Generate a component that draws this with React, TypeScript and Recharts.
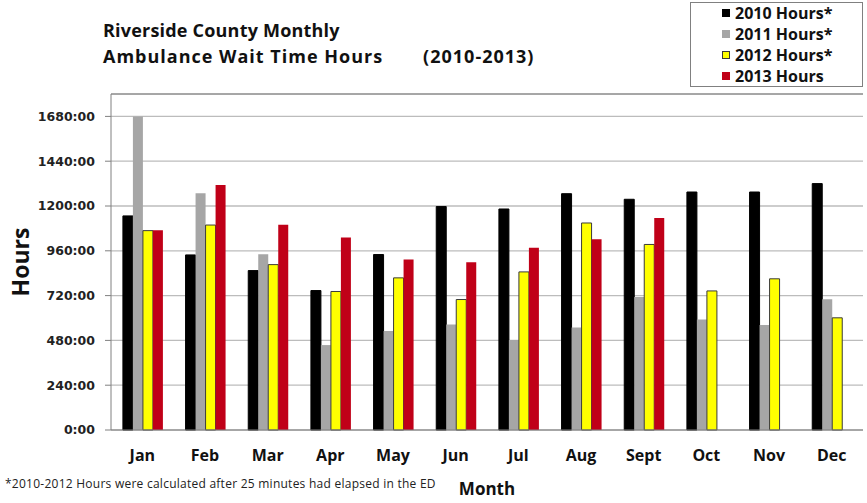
import React from "react";
import {
  BarChart,
  Bar,
  XAxis,
  YAxis,
  CartesianGrid,
  ReferenceLine,
} from "recharts";

const months = ["Jan", "Feb", "Mar", "Apr", "May", "Jun", "Jul", "Aug", "Sept", "Oct", "Nov", "Dec"];
const hours2010 = [1147, 938, 854, 747, 940, 1197, 1184, 1266, 1236, 1275, 1275, 1320];
const hours2011 = [1680, 1268, 942, 455, 530, 565, 482, 549, 713, 592, 562, 701];
const hours2012 = [1068, 1098, 886, 742, 815, 699, 847, 1109, 994, 745, 810, 601];
const hours2013 = [1070, 1312, 1100, 1031, 913, 899, 977, 1022, 1136, null, null, null];
const yTicks = [0, 240, 480, 720, 960, 1200, 1440, 1680];

const series = [
  { key: "y2010", name: "2010 Hours*", fill: "#000000", stroke: "#000000" },
  { key: "y2011", name: "2011 Hours*", fill: "#a6a6a6", stroke: "none" },
  { key: "y2012", name: "2012 Hours*", fill: "#ffff00", stroke: "#3a3a3a" },
  { key: "y2013", name: "2013 Hours", fill: "#c00018", stroke: "none" },
];

const data = months.map((month, i) => ({
  month,
  y2010: hours2010[i],
  y2011: hours2011[i],
  y2012: hours2012[i],
  y2013: hours2013[i],
}));

// category boundaries, used for the tick marks between months
const boundaryTicks = months.map((_, i) => i).concat(months.length);

const calibriLike = "'Open Sans', 'Liberation Sans', sans-serif";

function HoursLabel(props: any) {
  const vb = props.viewBox || {};
  const cx = vb.x + 20;
  const cy = vb.y + vb.height / 2;
  return (
    <text
      x={cx}
      y={cy}
      transform={`rotate(-90 ${cx} ${cy})`}
      textAnchor="middle"
      dominantBaseline="central"
      fontSize={23}
      fontWeight={700}
      fill="#111"
      fontFamily={calibriLike}
    >
      Hours
    </text>
  );
}

export default function App() {
  return (
    <div
      style={{
        position: "absolute",
        left: 0,
        top: 0,
        width: 867,
        height: 503,
        background: "#fff",
        fontFamily: calibriLike,
      }}
    >
      <div
        style={{
          position: "absolute",
          left: 103,
          top: 17,
          fontSize: 18,
          lineHeight: "26px",
          fontWeight: 700,
          color: "#111",
          whiteSpace: "nowrap",
        }}
      >
        <div style={{ letterSpacing: 0.2 }}>Riverside County Monthly</div>
        <div style={{ letterSpacing: 1 }}>
          Ambulance Wait Time Hours
          <span style={{ marginLeft: 40, letterSpacing: 1 }}>(2010-2013)</span>
        </div>
      </div>

      <div
        style={{
          position: "absolute",
          left: 690,
          top: 2,
          width: 173,
          height: 85,
          border: "1px solid #808080",
          boxSizing: "border-box",
          paddingLeft: 31,
        }}
      >
        {series.map((s) => (
          <div
            key={s.key}
            style={{
              display: "flex",
              alignItems: "center",
              height: 20.8,
              fontSize: 16,
              fontWeight: 700,
              color: "#111",
              whiteSpace: "nowrap",
            }}
          >
            <span
              style={{
                display: "inline-block",
                width: 8,
                height: 8,
                background: s.fill,
                border: s.stroke === "none" ? "none" : `1px solid ${s.stroke}`,
                boxSizing: "border-box",
                marginRight: 5,
              }}
            />
            {s.name}
          </div>
        ))}
      </div>

      <div style={{ position: "absolute", left: 0, top: 0 }}>
        <BarChart
          width={867}
          height={503}
          data={data}
          margin={{ top: 94, right: 4, bottom: 0, left: 0 }}
          barCategoryGap="19%"
          barGap={0}
        >
          <CartesianGrid vertical={false} stroke="#bcbcbc" strokeWidth={1.3} />
          <XAxis
            xAxisId="sep"
            type="number"
            domain={[0, months.length]}
            ticks={boundaryTicks}
            tick={false}
            tickSize={6}
            axisLine={false}
            tickLine={{ stroke: "#808080" }}
            height={0}
          />
          <XAxis
            dataKey="month"
            height={73}
            tickLine={false}
            axisLine={{ stroke: "#808080" }}
            tickSize={0}
            tickMargin={20}
            tick={{ fontSize: 16, fontWeight: 700, fill: "#111", fontFamily: calibriLike }}
            interval={0}
            label={{
              value: "Month",
              position: "insideBottom",
              offset: 8,
              fontSize: 17,
              fontWeight: 700,
              fill: "#111",
              fontFamily: calibriLike,
            }}
          />
          <YAxis
            width={111}
            domain={[0, 1800]}
            ticks={yTicks}
            tickFormatter={(v: number) => `${v}:00`}
            axisLine={{ stroke: "#808080" }}
            tickLine={{ stroke: "#808080" }}
            tickSize={6}
            tickMargin={10}
            tick={{ fontSize: 12.5, fontWeight: 700, fill: "#222", fontFamily: "'DejaVu Sans', sans-serif" }}
            label={<HoursLabel />}
          />
          <ReferenceLine y={1800} stroke="#808080" />
          <ReferenceLine x={months.length} xAxisId="sep" stroke="#808080" />
          {series.map((s) => (
            <Bar
              key={s.key}
              dataKey={s.key}
              name={s.name}
              fill={s.fill}
              stroke={s.stroke}
              strokeWidth={1}
              isAnimationActive={false}
            />
          ))}
        </BarChart>
      </div>

      <div
        style={{
          position: "absolute",
          left: 5,
          top: 477,
          fontSize: 12,
          lineHeight: "14px",
          letterSpacing: 0.25,
          color: "#222",
          whiteSpace: "nowrap",
        }}
      >
        *2010-2012 Hours were calculated after 25 minutes had elapsed in the ED
      </div>
    </div>
  );
}
